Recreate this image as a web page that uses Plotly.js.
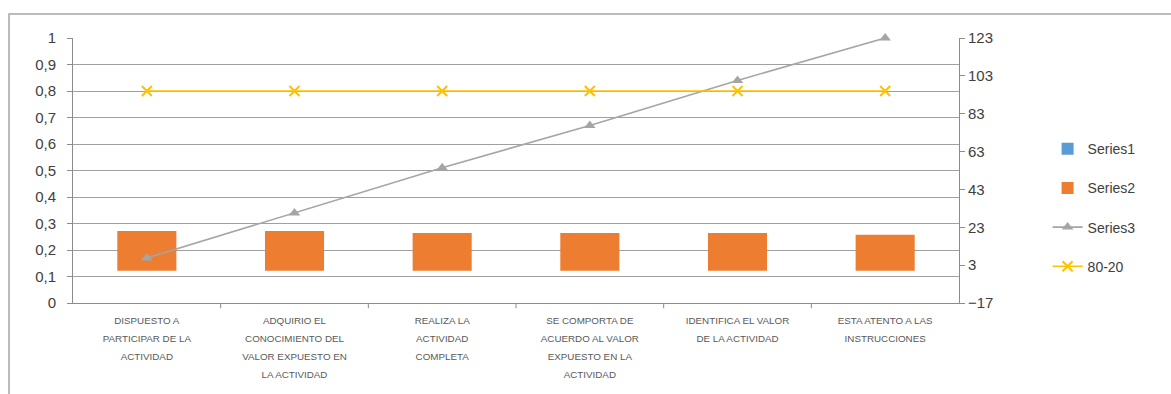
<!DOCTYPE html>
<html>
<head>
<meta charset="utf-8">
<script src="https://cdn.plot.ly/plotly-3.0.1.min.js"></script>
<style>html,body{margin:0;padding:0;background:#fff;}#chart{width:1171px;height:394px;}</style>
</head>
<body>
<div id="chart"></div>
<script>
const categories = [
  "DISPUESTO A<br>PARTICIPAR DE LA<br>ACTIVIDAD",
  "ADQUIRIO EL<br>CONOCIMIENTO DEL<br>VALOR EXPUESTO EN<br>LA ACTIVIDAD",
  "REALIZA LA<br>ACTIVIDAD<br>COMPLETA",
  "SE COMPORTA DE<br>ACUERDO AL VALOR<br>EXPUESTO EN LA<br>ACTIVIDAD",
  "IDENTIFICA EL VALOR<br>DE LA ACTIVIDAD",
  "ESTA ATENTO A LAS<br>INSTRUCCIONES"
];
const series1 = [0, 0, 0, 0, 0, 0];
const series2 = [21, 21, 20, 20, 20, 19];
const series3 = [0.17, 0.34, 0.51, 0.67, 0.84, 1.0];
const line8020 = [0.8, 0.8, 0.8, 0.8, 0.8, 0.8];
const leftTicks = [0, 0.1, 0.2, 0.3, 0.4, 0.5, 0.6, 0.7, 0.8, 0.9, 1];
const rightTicks = [-17, 3, 23, 43, 63, 83, 103, 123];

const ids = categories.map((c, i) => i);
const tickText = categories.map(c => '<span style="font-size:9.8px">' + c + '</span>');

// 'y' = right (secondary, base) axis, 'y2' = left (primary) axis drawn on top
const traces = [
  {type: 'bar', name: 'Series1', x: ids, y: series1, yaxis: 'y2', width: 0.4,
   marker: {color: '#5B9BD5', line: {width: 0}}, legendgroup: 'a'},
  {type: 'bar', name: 'Series2', x: ids, y: series2, yaxis: 'y', width: 0.4,
   marker: {color: '#ED7D31', line: {width: 0}}, legendgroup: 'b'},
  {type: 'scatter', mode: 'lines+markers', name: 'Series3', x: ids, y: series3, yaxis: 'y2',
   cliponaxis: false,
   line: {color: '#A5A5A5', width: 1.6},
   marker: {symbol: 'triangle-up', size: 10, color: '#A5A5A5'}, legendgroup: 'c'},
  {type: 'scatter', mode: 'lines+markers', name: '80-20', x: ids, y: line8020, yaxis: 'y2',
   cliponaxis: false,
   line: {color: '#FFC000', width: 1.6},
   marker: {symbol: 'x-thin-open', size: 10, color: '#FFC000', line: {color: '#FFC000', width: 2}}, legendgroup: 'd'}
];

const layout = {
  width: 1171, height: 394,
  margin: {l: 73, r: 212, t: 38, b: 91},
  paper_bgcolor: '#fff', plot_bgcolor: '#fff',
  separators: ', ',
  barmode: 'overlay',
  showlegend: true,
  font: {family: 'Liberation Sans, Arial, sans-serif', color: '#404040', size: 14},
  xaxis: {
    type: 'linear', range: [-0.5, 5.5], tickmode: 'array', tickvals: ids, ticktext: tickText,
    showgrid: false, zeroline: false, showline: true, linecolor: '#8c8c8c', linewidth: 1,
    ticks: '', tickfont: {size: 14, color: '#595959'}, ticklabelstandoff: 3, fixedrange: true
  },
  yaxis: {
    side: 'right', range: [-17, 123], tickmode: 'array', tickvals: rightTicks,
    showgrid: false, zeroline: false, showline: true, linecolor: '#8c8c8c', linewidth: 1,
    ticks: 'outside', ticklen: 5, tickcolor: '#8c8c8c', tickfont: {size: 15, color: '#404040'}
  },
  yaxis2: {
    overlaying: 'y', side: 'left', range: [0, 1], tickmode: 'array', tickvals: leftTicks,
    showgrid: true, gridcolor: '#a0a0a0', gridwidth: 1, zeroline: false,
    showline: true, linecolor: '#8c8c8c', linewidth: 1,
    ticks: 'outside', ticklen: 5, tickcolor: '#8c8c8c', tickfont: {size: 15, color: '#404040'},
    ticklabelstandoff: 8
  },
  legend: {
    x: 1.1, xanchor: 'left', y: 0.36, yanchor: 'middle',
    font: {size: 14, color: '#404040'}, tracegroupgap: 18, bgcolor: 'rgba(0,0,0,0)'
  },
  shapes: [
    {type: 'rect', xref: 'paper', yref: 'paper', x0: -0.0722, x1: 1.3, y0: -0.4, y1: 1.0906,
     line: {color: '#a6a6a6', width: 1.5}, fillcolor: 'rgba(0,0,0,0)', layer: 'below'}
  ]
};

// category boundary ticks on x axis
const bounds = [0.5, 1.5, 2.5, 3.5, 4.5];
bounds.forEach(b => layout.shapes.push({type: 'line', xref: 'x', yref: 'paper', x0: b, x1: b, y0: 0, y1: -0.02, line: {color: '#8c8c8c', width: 1}}));

Plotly.newPlot('chart', traces, layout, {displayModeBar: false, staticPlot: true});
</script>
</body>
</html>
